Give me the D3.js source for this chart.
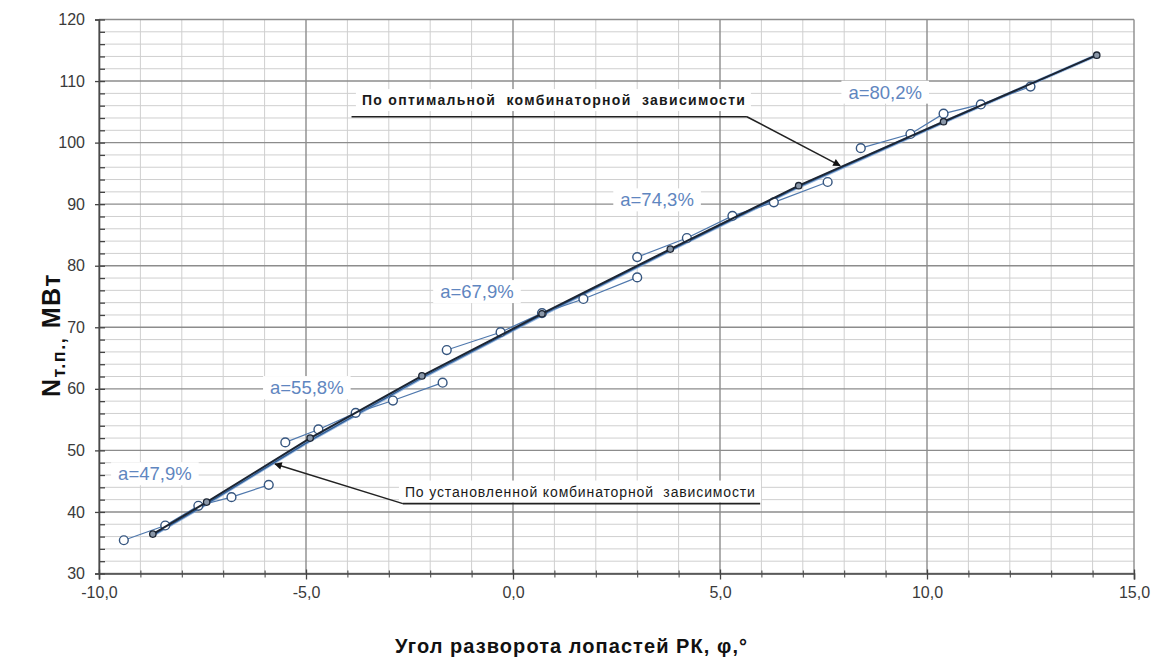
<!DOCTYPE html>
<html>
<head>
<meta charset="utf-8">
<script src="https://cdn.jsdelivr.net/npm/d3@7"></script>
<style>
  html, body { margin: 0; padding: 0; background: #ffffff; }
  svg { display: block; font-family: "Liberation Sans", Arial, sans-serif; }
</style>
</head>
<body>
<svg id="chart" width="1155" height="664"></svg>
<script>
// Axis ranges and tick labels
const xDomain = [-10, 15];
const yDomain = [30, 120];
const xMajorTicks = [-10, -5, 0, 5, 10, 15];
const yMajorTicks = [30, 40, 50, 60, 70, 80, 90, 100, 110, 120];

// Power curves for fixed guide-vane openings (blade angle φ, power N)
const seriesNames = ["a=47,9%", "a=55,8%", "a=67,9%", "a=74,3%", "a=80,2%"];
const phi_a479 = [-9.4, -8.4, -7.6, -6.8, -5.9];
const N_a479   = [35.4, 37.8, 41.0, 42.4, 44.4];
const phi_a558 = [-5.5, -4.7, -3.8, -2.9, -1.7];
const N_a558   = [51.3, 53.4, 56.1, 58.1, 61.0];
const phi_a679 = [-1.6, -0.3, 0.7, 1.7, 3.0];
const N_a679   = [66.3, 69.2, 72.3, 74.6, 78.1];
const phi_a743 = [3.0, 4.2, 5.3, 6.3, 7.6];
const N_a743   = [81.4, 84.5, 88.1, 90.3, 93.6];
const phi_a802 = [8.4, 9.6, 10.4, 11.3, 12.5];
const N_a802   = [99.1, 101.4, 104.7, 106.2, 109.1];

// Optimal combinator dependence
const phiOpt = [-8.7, -7.4, -4.9, -2.2, 0.7, 3.8, 6.9, 10.4, 14.1];
const NOpt   = [36.4, 41.6, 52.0, 62.1, 72.2, 82.7, 93.0, 103.4, 114.2];

// Established combinator dependence
const phiEst = [-8.7, -7.4, -4.9, -2.2, 0.7, 3.8, 6.9, 10.4, 14.1];
const NEst   = [36.2, 41.3, 51.6, 61.8, 72.0, 82.5, 92.8, 103.3, 114.2];

const svg = d3.select("#chart");
const W = 1155, H = 664;
const m = { left: 99, right: 21, top: 19.5, bottom: 90.5 };
const x = d3.scaleLinear().domain(xDomain).range([m.left, W - m.right]);
const y = d3.scaleLinear().domain(yDomain).range([H - m.bottom, m.top]);

svg.append("rect").attr("width", W).attr("height", H).attr("fill", "#fff");

// Grid
const grid = svg.append("g");
const xMinor = d3.range(xDomain[0], xDomain[1] + 1, 1);
const yMinor = d3.range(yDomain[0], yDomain[1] + 1, 2);
grid.selectAll(".vx").data(xMinor.filter(v => v % 5 !== 0)).join("line")
  .attr("x1", d => x(d)).attr("x2", d => x(d))
  .attr("y1", y(yDomain[0])).attr("y2", y(yDomain[1]))
  .attr("stroke", "#cfcfcf").attr("stroke-width", 1);
grid.selectAll(".hy").data(yMinor.filter(v => v % 10 !== 0)).join("line")
  .attr("x1", x(xDomain[0])).attr("x2", x(xDomain[1]))
  .attr("y1", d => y(d)).attr("y2", d => y(d))
  .attr("stroke", "#cfcfcf").attr("stroke-width", 1);
grid.selectAll(".vX").data(xMajorTicks).join("line")
  .attr("x1", d => x(d)).attr("x2", d => x(d))
  .attr("y1", y(yDomain[0])).attr("y2", y(yDomain[1]))
  .attr("stroke", "#8c8c8c").attr("stroke-width", 1.4);
grid.selectAll(".hY").data(yMajorTicks).join("line")
  .attr("x1", x(xDomain[0])).attr("x2", x(xDomain[1]))
  .attr("y1", d => y(d)).attr("y2", d => y(d))
  .attr("stroke", "#8c8c8c").attr("stroke-width", 1.4);

// Axes
const fmt = d => d3.format(".1f")(d).replace(".", ",").replace("\u2212", "-");
const xAxisMinor = d3.axisBottom(x).tickValues(xMinor).tickSize(4).tickFormat("");
const xAxis = d3.axisBottom(x).tickValues(xMajorTicks).tickSize(6).tickFormat(fmt);
const yAxisMinor = d3.axisRight(y).tickValues(yMinor).tickSize(6).tickFormat("");
const yAxis = d3.axisLeft(y).tickValues(yMajorTicks).tickSize(4);

const gxm = svg.append("g").attr("transform", `translate(0,${y(yDomain[0])})`).call(xAxisMinor);
gxm.selectAll(".tick line").attr("y1", -3).attr("stroke", "#444");
const gx = svg.append("g").attr("transform", `translate(0,${y(yDomain[0])})`).call(xAxis);
gx.selectAll(".tick line").attr("y1", -4).attr("stroke", "#444").attr("stroke-width", 1.3);
gx.selectAll("text").attr("y", 13).attr("font-size", 16).attr("fill", "#3a3a3a")
  .attr("font-family", "Liberation Sans, Arial, sans-serif");
gx.select(".domain").attr("stroke", "#4a4a4a").attr("stroke-width", 1.6);
gxm.select(".domain").remove();

const gym = svg.append("g").attr("transform", `translate(${x(xDomain[0])},0)`).call(yAxisMinor);
gym.selectAll(".tick line").attr("stroke", "#444").attr("stroke-width", 1.3);
gym.select(".domain").remove();
const gy = svg.append("g").attr("transform", `translate(${x(xDomain[0])},0)`).call(yAxis);
gy.selectAll(".tick line").attr("stroke", "#444").attr("stroke-width", 1.3);
gy.selectAll("text").attr("x", -14).attr("font-size", 16).attr("fill", "#3a3a3a")
  .attr("font-family", "Liberation Sans, Arial, sans-serif");
gy.select(".domain").attr("stroke", "#4a4a4a").attr("stroke-width", 1.6);

// Lines
const line = d3.line().x(d => x(d[0])).y(d => y(d[1]));
const zip = (a, b) => a.map((v, i) => [v, b[i]]);

const allSeries = [
  zip(phi_a479, N_a479), zip(phi_a558, N_a558), zip(phi_a679, N_a679),
  zip(phi_a743, N_a743), zip(phi_a802, N_a802)
];
const est = zip(phiEst, NEst);
const opt = zip(phiOpt, NOpt);

// established line: blue, broad
svg.append("path").datum(est).attr("d", line)
  .attr("fill", "none").attr("stroke", "#7fa6d8").attr("stroke-width", 3.2).attr("stroke-opacity", 0.8);
svg.append("path").datum(est).attr("d", line)
  .attr("fill", "none").attr("stroke", "#2f5d95").attr("stroke-width", 1.4);

// opening curves
const sg = svg.append("g");
allSeries.forEach(s => {
  sg.append("path").datum(s).attr("d", line)
    .attr("fill", "none").attr("stroke", "#4f78ad").attr("stroke-width", 1.2);
});

// optimal line: dark
svg.append("path").datum(opt).attr("d", line)
  .attr("fill", "none").attr("stroke", "#1c2533").attr("stroke-width", 2);

allSeries.forEach(s => {
  sg.selectAll(null).data(s).join("circle")
    .attr("cx", d => x(d[0])).attr("cy", d => y(d[1])).attr("r", 4.4)
    .attr("fill", "#fff").attr("stroke", "#35557f").attr("stroke-width", 1.4);
});
svg.append("g").selectAll("circle").data(opt).join("circle")
  .attr("cx", d => x(d[0])).attr("cy", d => y(d[1])).attr("r", 3.2)
  .attr("fill", "#8a97a8").attr("stroke", "#1c2533").attr("stroke-width", 1.3);

// Opening labels with white boxes (anchor positions in data units)
const labelAt = [[-8.65, 46.2], [-4.98, 60.2], [-0.87, 75.8], [3.48, 90.7], [8.99, 108.2]];
const lg = svg.append("g");
seriesNames.forEach((t, i) => {
  const g = lg.append("g");
  const txt = g.append("text").attr("x", x(labelAt[i][0])).attr("y", y(labelAt[i][1]))
    .attr("text-anchor", "middle").attr("dominant-baseline", "central")
    .attr("font-size", 18.5).attr("fill", "#5f86c0").text(t);
  const bb = txt.node().getBBox();
  g.insert("rect", "text").attr("x", bb.x - 7).attr("y", bb.y - 1)
    .attr("width", bb.width + 14).attr("height", bb.height + 2).attr("fill", "#fff");
});

// Callouts
svg.append("defs").append("marker").attr("id", "arrow")
  .attr("viewBox", "0 0 10 10").attr("refX", 9).attr("refY", 5)
  .attr("markerWidth", 7).attr("markerHeight", 5).attr("orient", "auto")
  .append("path").attr("d", "M0,0 L10,5 L0,10 z").attr("fill", "#111");

const interp = (xs, ys, v) => d3.scaleLinear().domain(xs).range(ys)(v);

function callout(textStr, tx, ty, u0, u1, uy, tipPhi, tipN, bold, tlen) {
  const g = svg.append("g");
  const t = g.append("text").attr("x", x(tx)).attr("y", y(ty))
    .attr("font-size", 14).attr("fill", "#1a1a1a").attr("font-weight", bold ? "bold" : "normal")
    .attr("textLength", tlen).attr("lengthAdjust", "spacing")
    .attr("xml:space", "preserve").text(textStr);
  const bb = t.node().getBBox();
  g.insert("rect", "text").attr("x", bb.x - 6).attr("y", bb.y - 3)
    .attr("width", bb.width + 12).attr("height", bb.height + 6).attr("fill", "#fff");
  g.append("line").attr("x1", x(u0)).attr("x2", x(u1)).attr("y1", y(uy)).attr("y2", y(uy))
    .attr("stroke", "#222").attr("stroke-width", 1.6);
  const endPhi = tipPhi > u1 ? u1 : u0;
  g.append("line").attr("x1", x(endPhi)).attr("y1", y(uy))
    .attr("x2", x(tipPhi)).attr("y2", y(tipN))
    .attr("stroke", "#222").attr("stroke-width", 1.5).attr("marker-end", "url(#arrow)");
}
callout("По оптимальной  комбинаторной  зависимости", -3.65, 106.1, -3.9, 5.65, 104.2,
  7.9, interp(phiOpt, NOpt, 7.9) + 0.3, true, 383);
callout("По установленной комбинаторной  зависимости", -2.61, 42.5, -2.66, 5.97, 41.35,
  -5.75, interp(phiEst, NEst, -5.75) - 0.3, false, 350);

// Axis titles
svg.append("text").attr("x", 395).attr("y", 653)
  .attr("font-size", 20).attr("font-weight", "bold").attr("fill", "#111")
  .attr("textLength", 352).attr("lengthAdjust", "spacing")
  .text("Угол разворота лопастей РК, φ,°");

const yt = svg.append("text").attr("transform", "translate(60,335) rotate(-90)")
  .attr("text-anchor", "middle").attr("font-weight", "bold").attr("fill", "#111")
  .attr("font-size", 25).attr("letter-spacing", 1.5);
yt.append("tspan").text("N");
yt.append("tspan").attr("font-size", 18).attr("dy", 5).text("т.п.,");
yt.append("tspan").attr("dy", -5).text(" МВт");
</script>
</body>
</html>
